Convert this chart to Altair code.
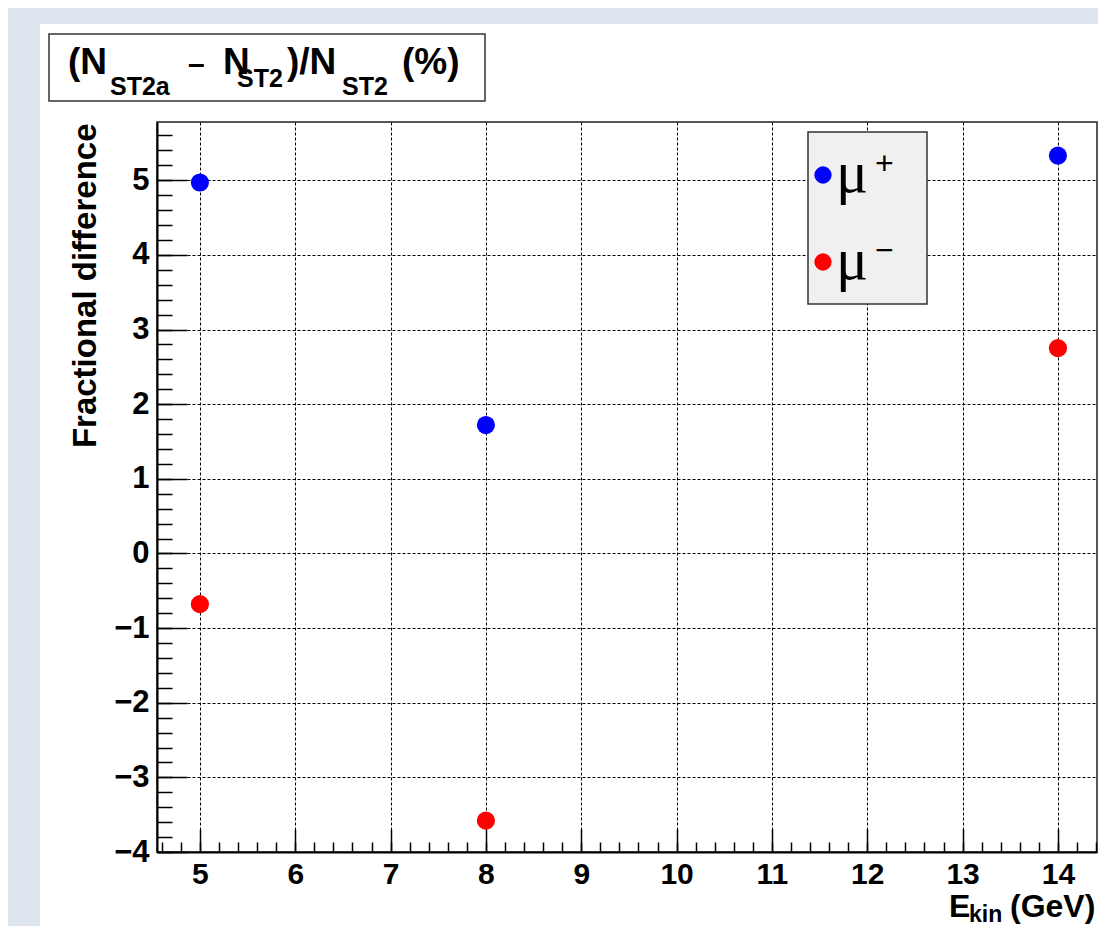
import altair as alt
import pandas as pd

# ---------------- data ----------------
energy = [5, 8, 14]                 # E_kin (GeV)
mu_plus = [4.97, 1.72, 5.33]        # fractional difference (%) for mu+
mu_minus = [-0.68, -3.58, 2.75]     # fractional difference (%) for mu-
series = ["μ+", "μ−"]
colors = ["#0000ff", "#ff0000"]

x_major = [5, 6, 7, 8, 9, 10, 11, 12, 13, 14]
y_major = [-4, -3, -2, -1, 0, 1, 2, 3, 4, 5]
x_minor = [round(4.6 + 0.2 * i, 1) for i in range(50)]
y_minor = [round(-4 + 0.2 * i, 1) for i in range(49)]

rows = []
for e, v in zip(energy, mu_plus):
    rows.append({"E": e, "diff": v, "series": series[0]})
for e, v in zip(energy, mu_minus):
    rows.append({"E": e, "diff": v, "series": series[1]})
df = pd.DataFrame(rows)
one = pd.DataFrame({"k": [0]})

# ---------------- layout ----------------
PL, PT = 149, 114          # padding -> plot origin at page (157, 122)
W, H = 940, 730
TOTAL_W, TOTAL_H = 1090, 918
OX, OY = 8 + PL, 8 + PT    # page coords of the plot origin

FONT = "Liberation Sans"
BG = "#dee5ef"

def vx(px):
    return px - OX

def vy(py):
    return py - OY

def box(x1, y1, x2, y2, fill, stroke=None, sw=1.5):
    kw = dict(fill=fill)
    if stroke is not None:
        kw.update(stroke=stroke, strokeWidth=sw)
    return alt.Chart(one).mark_rect(**kw).encode(
        x=alt.value(vx(x1)), x2=alt.value(vx(x2)),
        y=alt.value(vy(y1)), y2=alt.value(vy(y2)))

def txt(s, px, py, size, font=FONT, weight="bold", align="left"):
    return alt.Chart(one).mark_text(
        text=s, fontSize=size, font=font, fontWeight=weight, align=align,
        baseline="alphabetic", color="black").encode(
        x=alt.value(vx(px)), y=alt.value(vy(py)))

xs = alt.Scale(domain=[4.55, 14.41], nice=False, zero=False)
ys = alt.Scale(domain=[-4, 5.78], nice=False, zero=False)
cs = alt.Scale(domain=series, range=colors)

# main layer: data points, labels, grid
points = alt.Chart(df).mark_circle(size=330, opacity=1).encode(
    x=alt.X("E:Q", scale=xs, axis=alt.Axis(
        orient="bottom", values=x_major, title=None, grid=True, gridDash=[3, 2],
        gridColor="#000000", gridWidth=1, ticks=False, tickSize=0,
        labelFont=FONT, labelFontWeight="bold", labelFontSize=30, labelColor="black",
        labelPadding=7, labelFlush=False, domainColor="black", domainWidth=2)),
    y=alt.Y("diff:Q", scale=ys, axis=alt.Axis(
        orient="left", values=y_major, title="Fractional difference", grid=True,
        gridDash=[3, 2], gridColor="#000000", gridWidth=1, ticks=False, tickSize=0,
        labelFont=FONT, labelFontWeight="bold", labelFontSize=31, labelColor="black",
        labelPadding=8, labelFlush=False, labelOverlap=False,
        domainColor="black", domainWidth=2,
        titleFont=FONT, titleFontWeight="bold", titleFontSize=33, titleColor="black",
        titleAngle=270, titleAlign="right", titleBaseline="alphabetic",
        titleX=-62, titleY=1, titleAnchor="end")),
    color=alt.Color("series:N", scale=cs, legend=None),
)

def tick_layer(xv, yv, xlen, ylen):
    return alt.Chart(df).mark_circle(opacity=0).encode(
        x=alt.X("E:Q", scale=xs, axis=alt.Axis(
            orient="bottom", values=xv, title=None, grid=False, labels=False,
            domain=False, ticks=True, tickSize=xlen, offset=-xlen,
            tickColor="black", tickWidth=1.5)),
        y=alt.Y("diff:Q", scale=ys, axis=alt.Axis(
            orient="left", values=yv, title=None, grid=False, labels=False,
            domain=False, ticks=True, tickSize=ylen, offset=-ylen,
            tickColor="black", tickWidth=1.5)),
    )

major = tick_layer(x_major, y_major, 23, 30)
minor = tick_layer(x_minor, y_minor, 10, 15)

layers = [
    # light blue surroundings of the white canvas
    box(8, 8, 8 + TOTAL_W, 24, BG),
    box(8, 8, 40, 8 + TOTAL_H, BG),
    points, major, minor,
    # title box
    box(49, 34, 485, 101, "white", "#333333", 1.5),
    txt("(N", 68, 74, 37),
    txt("ST2a", 110, 95, 25),
    txt("–", 188, 74, 30),
    txt("N", 223, 74, 37),
    txt("ST2", 237, 87, 25),
    txt(")/N", 287, 74, 37),
    txt("ST2", 342, 95, 25),
    txt("(%)", 402, 74, 37),
    # x title
    txt("E", 949, 917, 32),
    txt("kin", 969, 922, 23),
    txt("(GeV)", 1010, 917, 32),
    # legend
    box(808, 132, 927, 304, "#f0f0f0", "#333333", 1.5),
]
for i, (s, c) in enumerate(zip(series, colors)):
    cy = 175 + 87 * i
    layers.append(alt.Chart(one).mark_circle(size=300, opacity=1, color=c).encode(
        x=alt.value(vx(823)), y=alt.value(vy(cy))))
    layers.append(txt("μ", 836, cy + 17, 60, font="Liberation Serif", weight="normal"))
    layers.append(txt(s[-1], 875, cy - 1, 32, weight="normal"))

chart = alt.layer(*layers).resolve_axis(
    x="independent", y="independent"
).properties(
    width=W, height=H,
    autosize=alt.AutoSizeParams(type="none"),
    padding={"left": PL, "top": PT, "right": TOTAL_W - PL - W, "bottom": TOTAL_H - PT - H},
    background="white",
).configure_view(stroke="#222222", strokeWidth=1.5)

chart.save("out.html", embed_options={"renderer": "svg", "actions": False})
